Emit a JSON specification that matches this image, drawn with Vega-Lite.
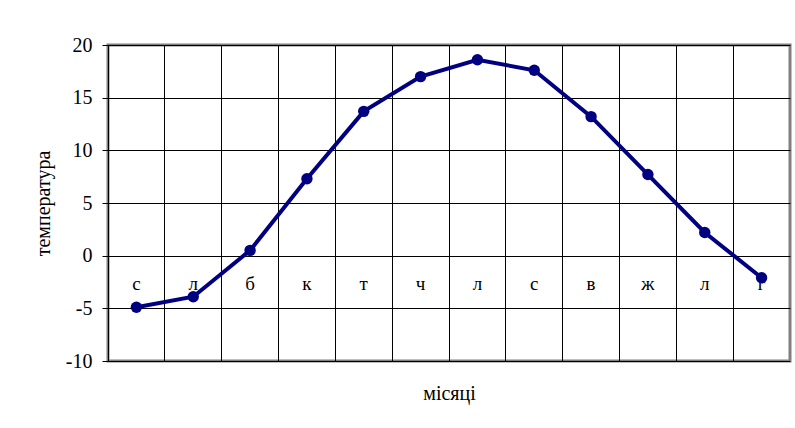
{
  "$schema": "https://vega.github.io/schema/vega-lite/v6.json",
  "autosize": "none",
  "width": 682,
  "height": 316,
  "padding": {"left": 108, "top": 45, "right": 5, "bottom": 67},
  "background": "white",
  "config": {
    "view": {"stroke": "#808080", "strokeWidth": 3},
    "font": "Liberation Serif",
    "axis": {"labelFont": "Liberation Serif", "titleFont": "Liberation Serif", "labelColor": "black", "titleColor": "black", "titleFontWeight": "normal"}
  },
  "data": {
    "values": [
      {"m": 1, "label": "с", "t": -4.9},
      {"m": 2, "label": "л", "t": -3.9},
      {"m": 3, "label": "б", "t": 0.5},
      {"m": 4, "label": "к", "t": 7.3},
      {"m": 5, "label": "т", "t": 13.7},
      {"m": 6, "label": "ч", "t": 17.0},
      {"m": 7, "label": "л", "t": 18.6},
      {"m": 8, "label": "с", "t": 17.6},
      {"m": 9, "label": "в", "t": 13.2},
      {"m": 10, "label": "ж", "t": 7.7},
      {"m": 11, "label": "л", "t": 2.2},
      {"m": 12, "label": "г", "t": -2.1}
    ]
  },
  "encoding": {
    "x": {
      "field": "m", "type": "ordinal", "bandPosition": 0.5,
      "scale": {"type": "band", "paddingInner": 0, "paddingOuter": 0},
      "axis": {
        "title": "місяці", "titleFontSize": 20, "titlePadding": 22,
        "labels": false, "ticks": false, "domain": false,
        "grid": true, "gridColor": "black", "gridWidth": 1, "gridOpacity": 1,
        "bandPosition": 0
      }
    }
  },
  "layer": [
    {
      "mark": {"type": "text", "fontSize": 19, "baseline": "middle", "dy": 28, "color": "black", "font": "Liberation Serif"},
      "encoding": {
        "y": {"datum": 0, "type": "quantitative"},
        "text": {"field": "label"}
      }
    },
    {
      "mark": {"type": "line", "color": "#000080", "strokeWidth": 4},
      "encoding": {
        "y": {
          "field": "t", "type": "quantitative",
          "scale": {"domain": [-10, 20], "nice": false, "zero": false},
          "axis": {
            "title": "температура", "titleFontSize": 20, "titlePadding": 12,
            "values": [-10, -5, 0, 5, 10, 15, 20],
            "labelExpr": "datum.value + ''",
            "labelFontSize": 20, "labelPadding": 10,
            "tickSize": 6, "tickColor": "black", "tickWidth": 1,
            "domain": false,
            "grid": true, "gridColor": "black", "gridWidth": 1, "gridOpacity": 1
          }
        }
      }
    },
    {
      "mark": {"type": "point", "filled": true, "color": "#000080", "size": 130, "opacity": 1},
      "encoding": {
        "y": {"field": "t", "type": "quantitative"}
      }
    }
  ]
}
